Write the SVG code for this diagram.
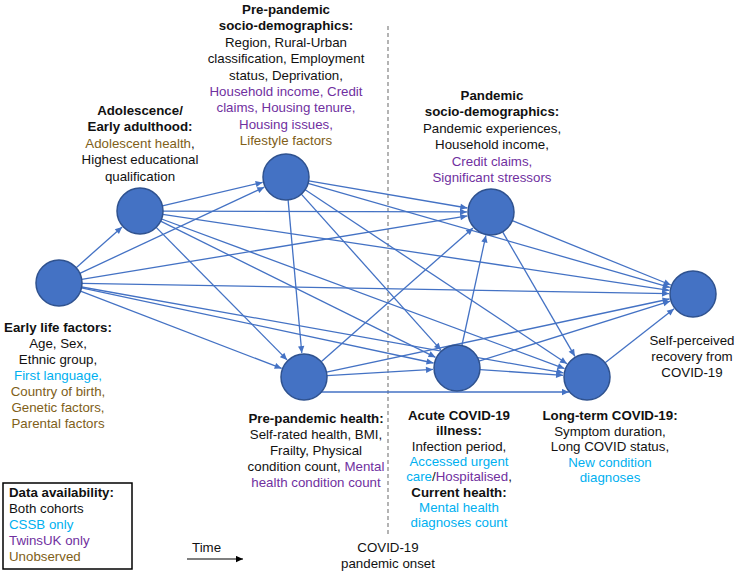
<svg xmlns="http://www.w3.org/2000/svg" width="736" height="572" viewBox="0 0 736 572">
<defs>
<marker id="ah" viewBox="0 0 10 10" refX="10" refY="5" markerWidth="8" markerHeight="7" markerUnits="userSpaceOnUse" orient="auto"><path d="M0,0.5 L10,5 L0,9.5 z" fill="#4472C4"/></marker>
<marker id="ahk" viewBox="0 0 10 10" refX="10" refY="5" markerWidth="8" markerHeight="7" markerUnits="userSpaceOnUse" orient="auto"><path d="M0,0.5 L10,5 L0,9.5 z" fill="#000"/></marker>
<style>
text{font-family:"Liberation Sans",Arial,sans-serif;font-size:13.3px;fill:#111;}
.c{text-anchor:middle;}
.b{font-weight:bold;}
.cy{fill:#00B0F0;}
.pu{fill:#7030A0;}
.ol{fill:#806018;}
.n{fill:#4472C4;stroke:#2F528F;stroke-width:1.5;}
.e{stroke:#4472C4;stroke-width:1.3;fill:none;marker-end:url(#ah);}
</style>
</defs>
<rect width="736" height="572" fill="#fff"/>
<line x1="388" y1="26" x2="388" y2="534" stroke="#8c8c8c" stroke-width="1.3" stroke-dasharray="4,3"/>
<g id="connectors">
<line class="e" x1="76.2" y1="267.7" x2="122.1" y2="226.9"/>
<line class="e" x1="79.8" y1="273.3" x2="264.3" y2="187.2"/>
<line class="e" x1="80.5" y1="291.2" x2="281.6" y2="368.4"/>
<line class="e" x1="81.7" y1="279.3" x2="467.3" y2="215.9"/>
<line class="e" x1="81.5" y1="287.8" x2="433.5" y2="363.0"/>
<line class="e" x1="81.7" y1="287.0" x2="563.4" y2="372.8"/>
<line class="e" x1="82" y1="283.4" x2="669" y2="293.6"/>
<line class="e" x1="162.4" y1="205.8" x2="262.6" y2="182.4"/>
<line class="e" x1="156.2" y1="227.4" x2="287.1" y2="359.9"/>
<line class="e" x1="163" y1="211.1" x2="467" y2="211.9"/>
<line class="e" x1="160.6" y1="221.2" x2="435.5" y2="357.3"/>
<line class="e" x1="161.6" y1="219.0" x2="564.5" y2="368.6"/>
<line class="e" x1="162.7" y1="214.4" x2="669.3" y2="290.4"/>
<line class="e" x1="288.1" y1="199.9" x2="301.8" y2="353.1"/>
<line class="e" x1="308.7" y1="180.9" x2="467.3" y2="208.0"/>
<line class="e" x1="301.3" y1="194.1" x2="441" y2="350.1"/>
<line class="e" x1="305.2" y1="189.7" x2="567" y2="363.7"/>
<line class="e" x1="308.1" y1="183.3" x2="669.9" y2="287.4"/>
<line class="e" x1="321.2" y1="361.8" x2="473" y2="227.9"/>
<line class="e" x1="327" y1="375.6" x2="433" y2="369.4"/>
<line class="e" x1="320" y1="392" x2="569" y2="392"/>
<line class="e" x1="326.5" y1="372.2" x2="669.5" y2="299.0"/>
<line class="e" x1="461.9" y1="345.5" x2="485.9" y2="235.4"/>
<line class="e" x1="480" y1="369.6" x2="563.1" y2="375.3"/>
<line class="e" x1="478.9" y1="361.1" x2="670.1" y2="301.2"/>
<line class="e" x1="502.6" y1="231.9" x2="574.9" y2="356.3"/>
<line class="e" x1="512.3" y1="220.6" x2="670.8" y2="285.0"/>
<line class="e" x1="605.1" y1="362.8" x2="674.1" y2="308.8"/>
</g>
<g id="early-life">
<circle class="n" cx="59" cy="283" r="23"/>
<text class="c b" x="58" y="332">Early life factors:</text>
<text class="c" x="58" y="348">Age, Sex,</text>
<text class="c" x="58" y="364">Ethnic group,</text>
<text class="c cy" x="58" y="380">First language,</text>
<text class="c ol" x="58" y="396">Country of birth,</text>
<text class="c ol" x="58" y="412">Genetic factors,</text>
<text class="c ol" x="58" y="428">Parental factors</text>
</g>
<g id="adolescence">
<circle class="n" cx="140" cy="211" r="23"/>
<text class="c b" x="140" y="115">Adolescence/</text>
<text class="c b" x="140" y="131.4">Early adulthood:</text>
<text class="c" x="140" y="147.8"><tspan class="ol">Adolescent health</tspan>,</text>
<text class="c" x="140" y="164.2">Highest educational</text>
<text class="c" x="140" y="180.6">qualification</text>
</g>
<g id="pre-pandemic-socio">
<circle class="n" cx="286" cy="177" r="23"/>
<text class="c b" x="286" y="14">Pre-pandemic</text>
<text class="c b" x="286" y="30.4">socio-demographics:</text>
<text class="c" x="286" y="46.8">Region, Rural-Urban</text>
<text class="c" x="286" y="63.2">classification, Employment</text>
<text class="c" x="286" y="79.6">status, Deprivation,</text>
<text class="c pu" x="286" y="96">Household income, Credit</text>
<text class="c pu" x="286" y="112.4">claims, Housing tenure,</text>
<text class="c pu" x="286" y="128.8">Housing issues,</text>
<text class="c ol" x="286" y="145.2">Lifestyle factors</text>
</g>
<g id="pre-pandemic-health">
<circle class="n" cx="304" cy="377" r="23"/>
<text class="c b" x="316" y="422.5">Pre-pandemic health:</text>
<text class="c" x="316" y="438.5">Self-rated health, BMI,</text>
<text class="c" x="316" y="454.5">Frailty, Physical</text>
<text class="c" x="316" y="470.5">condition count, <tspan class="pu">Mental</tspan></text>
<text class="c pu" x="316" y="486.5">health condition count</text>
</g>
<g id="pandemic-socio">
<circle class="n" cx="491" cy="212" r="23"/>
<text class="c b" x="492" y="100">Pandemic</text>
<text class="c b" x="492" y="116.4">socio-demographics:</text>
<text class="c" x="492" y="132.8">Pandemic experiences,</text>
<text class="c" x="492" y="149.2">Household income,</text>
<text class="c pu" x="492" y="165.6">Credit claims,</text>
<text class="c pu" x="492" y="182">Significant stressors</text>
</g>
<g id="acute-covid">
<circle class="n" cx="457" cy="368" r="23"/>
<text class="c b" x="459" y="420">Acute COVID-19</text>
<text class="c b" x="459" y="435.3">illness:</text>
<text class="c" x="459" y="450.6">Infection period,</text>
<text class="c cy" x="459" y="465.9">Accessed urgent</text>
<text class="c" x="459" y="481.2"><tspan class="cy">care</tspan>/<tspan class="pu">Hospitalised</tspan>,</text>
<text class="c b" x="459" y="496.5">Current health:</text>
<text class="c cy" x="459" y="511.8">Mental health</text>
<text class="c cy" x="459" y="527.1">diagnoses count</text>
</g>
<g id="long-covid">
<circle class="n" cx="587" cy="377" r="23"/>
<text class="c b" x="610" y="420">Long-term COVID-19:</text>
<text class="c" x="610" y="435.5">Symptom duration,</text>
<text class="c" x="610" y="451">Long COVID status,</text>
<text class="c cy" x="610" y="466.5">New condition</text>
<text class="c cy" x="610" y="482">diagnoses</text>
</g>
<g id="recovery">
<circle class="n" cx="693" cy="294" r="23"/>
<text class="c" x="692" y="344.5">Self-perceived</text>
<text class="c" x="692" y="360.5">recovery from</text>
<text class="c" x="692" y="376.5">COVID-19</text>
</g>
<g id="legend">
<rect x="3" y="483" width="129" height="86" fill="#fff" stroke="#000" stroke-width="1.5"/>
<text class="b" x="9" y="497">Data availability:</text>
<text x="9" y="513">Both cohorts</text>
<text class="cy" x="9" y="529">CSSB only</text>
<text class="pu" x="9" y="545">TwinsUK only</text>
<text class="ol" x="9" y="561">Unobserved</text>
</g>
<g id="time">
<text x="192" y="551.5">Time</text>
<line x1="187" y1="559" x2="243" y2="559" stroke="#000" stroke-width="1.2" marker-end="url(#ahk)"/>
</g>
<g id="onset">
<text class="c" x="388" y="552">COVID-19</text>
<text class="c" x="388" y="568">pandemic onset</text>
</g>
</svg>
